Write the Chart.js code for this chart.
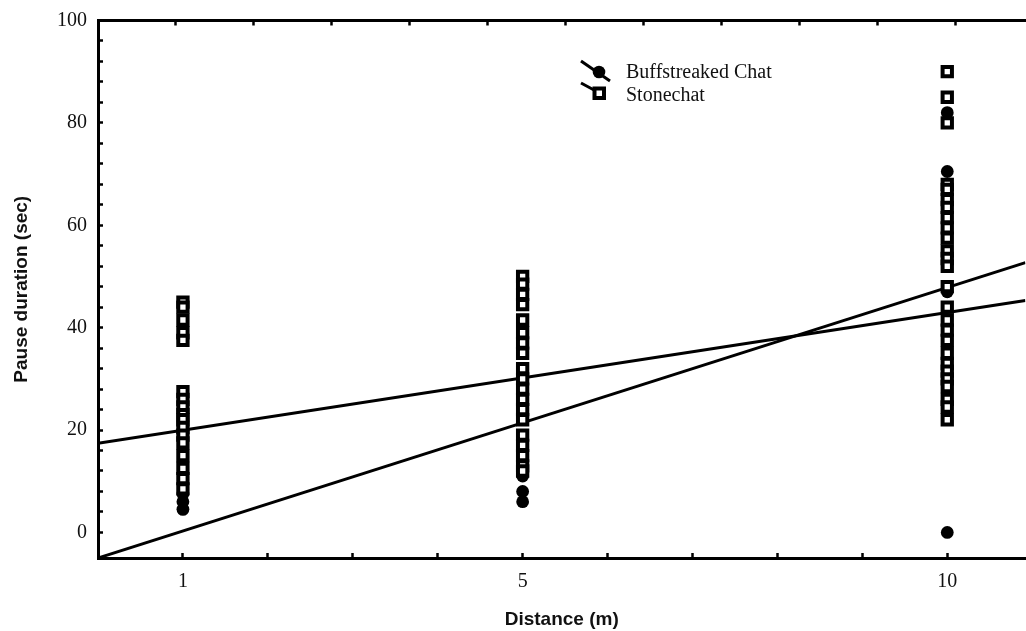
<!DOCTYPE html>
<html>
<head>
<meta charset="utf-8">
<script src="https://cdn.jsdelivr.net/npm/chart.js@4.4.1/dist/chart.umd.min.js"></script>
<style>
  html, body { margin: 0; padding: 0; background: #fff; overflow: hidden; }
  /* a little wider than the window: the plot runs off the right edge as in the original */
  #wrap { width: 1036px; height: 631px; }
  canvas { display: block; }
</style>
</head>
<body>
<div id="wrap"><canvas id="chart"></canvas></div>
<script>
const seriesNames = ['Buffstreaked Chat', 'Stonechat'];

// pause durations (sec) at each distance (m)
const buffAt1 = [7.5, 6, 4.5];
const buffAt5 = [11, 8, 6];
const buffAt10 = [82, 70.5, 47, 0];

const stoneAt1 = [45, 44, 41.5, 39, 37.5, 27.5, 26, 24.5, 23, 22, 20.5, 19, 17.5, 15, 12.5, 10.5, 8.5];
const stoneAt5 = [50, 48.5, 46.5, 44.5, 41.5, 39, 37, 35, 32, 30, 28, 26, 24, 22, 19, 17, 15, 13, 12];
const stoneAt10 = [90, 85, 80, 68, 67, 65, 63.5, 61.5, 59.5, 57.5, 55, 53.5, 52, 48, 44, 41.5, 39.5,
                   37.5, 35, 33, 31.5, 30, 28.5, 26, 24.5, 22];

// fitted lines, ends read at the plot edges
const fitX = [0, 10.92];
const buffFit = [-5, 52.7];
const stoneFit = [17.4, 45.3];

const xTicks = [0, 1, 2, 3, 4, 5, 6, 7, 8, 9, 10];
const xLabels = [1, 5, 10];
const topTicks = [0, 1, 2, 3, 4, 5, 6, 7, 8, 9, 10, 11];
const yTicks = [0, 4, 8, 12, 16, 20, 24, 28, 32, 36, 40, 44, 48, 52, 56, 60, 64, 68, 72, 76, 80, 84, 88, 92, 96, 100];
const yLabels = [0, 20, 40, 60, 80, 100];

function column(x, values) {
    return values.map(v => ({x: x, y: v}));
}
function fitLine(ys) {
    return fitX.map((x, i) => ({x: x, y: ys[i]}));
}

const serif = "'Liberation Serif', 'Times New Roman', serif";
const sans = "'Liberation Sans', Arial, sans-serif";

const tickGrid = {
    drawOnChartArea: false,
    drawTicks: true,
    tickLength: -5,
    tickWidth: 2.5,
    tickColor: '#000',
    color: '#000'
};
const axisBorder = {display: true, width: 3, color: '#000'};

function noPadding(scale) {
    scale.paddingLeft = 0;
    scale.paddingRight = 0;
    scale.paddingTop = 0;
    scale.paddingBottom = 0;
}

// legend drawn like the original: slanted line stub with the marker
const markerLegend = {
    id: 'markerLegend',
    afterDraw(chart) {
        const ctx = chart.ctx;
        ctx.save();
        ctx.strokeStyle = '#000';
        ctx.lineWidth = 3;
        ctx.beginPath();
        ctx.moveTo(581, 61);
        ctx.lineTo(610, 81);
        ctx.moveTo(581, 83);
        ctx.lineTo(594, 90);
        ctx.stroke();

        ctx.fillStyle = '#000';
        ctx.beginPath();
        ctx.arc(599, 72, 6.3, 0, Math.PI * 2);
        ctx.fill();

        ctx.fillStyle = '#fff';
        ctx.lineWidth = 4;
        ctx.beginPath();
        ctx.rect(594.5, 88.5, 9.5, 9.5);
        ctx.fill();
        ctx.stroke();

        ctx.fillStyle = '#111';
        ctx.font = '20px ' + serif;
        ctx.textBaseline = 'middle';
        ctx.textAlign = 'left';
        ctx.fillText(seriesNames[0], 626, 73);
        ctx.fillText(seriesNames[1], 626, 96);
        ctx.restore();
    }
};

const config = {
    type: 'scatter',
    data: {
        datasets: [
            {
                label: seriesNames[1],
                data: column(1, stoneAt1).concat(column(5, stoneAt5), column(10, stoneAt10)),
                pointStyle: 'rect',
                pointRadius: 6.6,
                borderWidth: 4,
                borderColor: '#000',
                backgroundColor: '#fff'
            },
            {
                label: seriesNames[0],
                data: column(1, buffAt1).concat(column(5, buffAt5), column(10, buffAt10)),
                pointStyle: 'circle',
                pointRadius: 6.4,
                borderWidth: 0,
                backgroundColor: '#000'
            },
            {
                label: seriesNames[0] + ' fit',
                data: fitLine(buffFit),
                showLine: true,
                pointRadius: 0,
                borderWidth: 3,
                borderColor: '#000'
            },
            {
                label: seriesNames[1] + ' fit',
                data: fitLine(stoneFit),
                showLine: true,
                pointRadius: 0,
                borderWidth: 3,
                borderColor: '#000'
            }
        ]
    },
    options: {
        responsive: true,
        maintainAspectRatio: false,
        animation: false,
        layout: {padding: 0},
        scales: {
            x: {
                type: 'linear',
                position: 'bottom',
                min: 0,
                max: fitX[1],
                afterBuildTicks: function(scale) {
                    scale.ticks = xTicks.map(v => ({value: v}));
                },
                afterFit: function(scale) { scale.height = 73; noPadding(scale); },
                grid: tickGrid,
                border: axisBorder,
                ticks: {
                    autoSkip: false,
                    maxRotation: 0,
                    padding: 16.5,
                    color: '#111',
                    font: {family: serif, size: 20},
                    callback: function(value) {
                        return xLabels.includes(value) ? String(value) : '';
                    }
                },
                title: {
                    display: true,
                    text: 'Distance (m)',
                    color: '#111',
                    font: {family: sans, size: 19, weight: 'bold'},
                    padding: {top: 0, bottom: 0}
                }
            },
            x2: {
                type: 'linear',
                position: 'top',
                min: 0,
                max: 11.9,
                afterBuildTicks: function(scale) {
                    scale.ticks = topTicks.map(v => ({value: v}));
                },
                afterFit: function(scale) { scale.height = 20.5; noPadding(scale); },
                grid: tickGrid,
                border: axisBorder,
                ticks: {display: false}
            },
            y: {
                type: 'linear',
                position: 'left',
                min: -5,
                max: 100,
                afterBuildTicks: function(scale) {
                    scale.ticks = yTicks.map(v => ({value: v}));
                },
                afterFit: function(scale) { scale.width = 98; noPadding(scale); },
                grid: tickGrid,
                border: axisBorder,
                ticks: {
                    autoSkip: false,
                    padding: 16,
                    color: '#111',
                    font: {family: serif, size: 20},
                    callback: function(value) {
                        return yLabels.includes(value) ? String(value) : '';
                    }
                },
                title: {
                    display: true,
                    text: 'Pause duration (sec)',
                    color: '#111',
                    font: {family: sans, size: 19, weight: 'bold'},
                    padding: {top: 10, bottom: 0}
                }
            }
        },
        plugins: {
            legend: {display: false},
            tooltip: {enabled: false}
        }
    },
    plugins: [markerLegend]
};

new Chart(document.getElementById('chart'), config);
</script>
</body>
</html>
